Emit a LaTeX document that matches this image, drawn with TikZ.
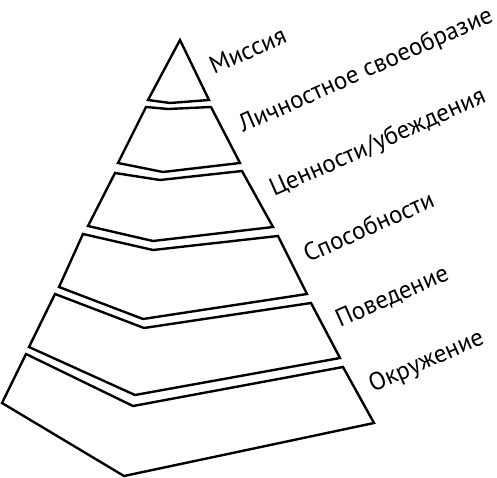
\documentclass[tikz,border=0pt]{standalone}
\usepackage{fontspec}
\setmainfont{PT Sans}
\usepackage{tikz}

\tikzset{
  sloj/.style={line width=2.4pt, line join=miter},
  podpis/.style={anchor=base west, inner sep=0pt, rotate=24, font=\fontsize{25}{30}\selectfont}
}

\begin{document}
\begin{tikzpicture}[x=1pt,y=-1pt]
  \useasboundingbox (0,0) rectangle (497,478);

  % Вершина
  \draw[sloj] (180,40) -- (209,100) -- (170,103) -- (148,100) -- cycle;

  % Ярусы пирамиды
  \draw[sloj] (146,107) -- (168,109) -- (211,107) -- (240,163) -- (163,172) -- (118,163) -- cycle;
  \draw[sloj] (115,173) -- (160,180) -- (242,171) -- (273,227) -- (153,241) -- (88,226) -- cycle;
  \draw[sloj] (83,234) -- (153,250) -- (278,236) -- (307,294) -- (143,319) -- (59,287) -- cycle;
  \draw[sloj] (55,294) -- (144,328) -- (311,303) -- (340,358) -- (135,395) -- (29,347) -- cycle;
  \draw[sloj] (26,354) -- (133,406) -- (343,367) -- (374,423) -- (124,476) -- (2,403) -- cycle;

  % Подписи уровней
  \node[podpis] (missiya) at (214,75) {Миссия};
  \node[podpis] (lichnost) at (243,133) {Личностное своеобразие};
  \node[podpis] (tsennosti) at (274,197) {Ценности/убеждения};
  \node[podpis] (sposobnosti) at (308,263) {Способности};
  \node[podpis] (povedenie) at (340,328) {Поведение};
  \node[podpis] (okruzhenie) at (373,393) {Окружение};
\end{tikzpicture}
\end{document}
